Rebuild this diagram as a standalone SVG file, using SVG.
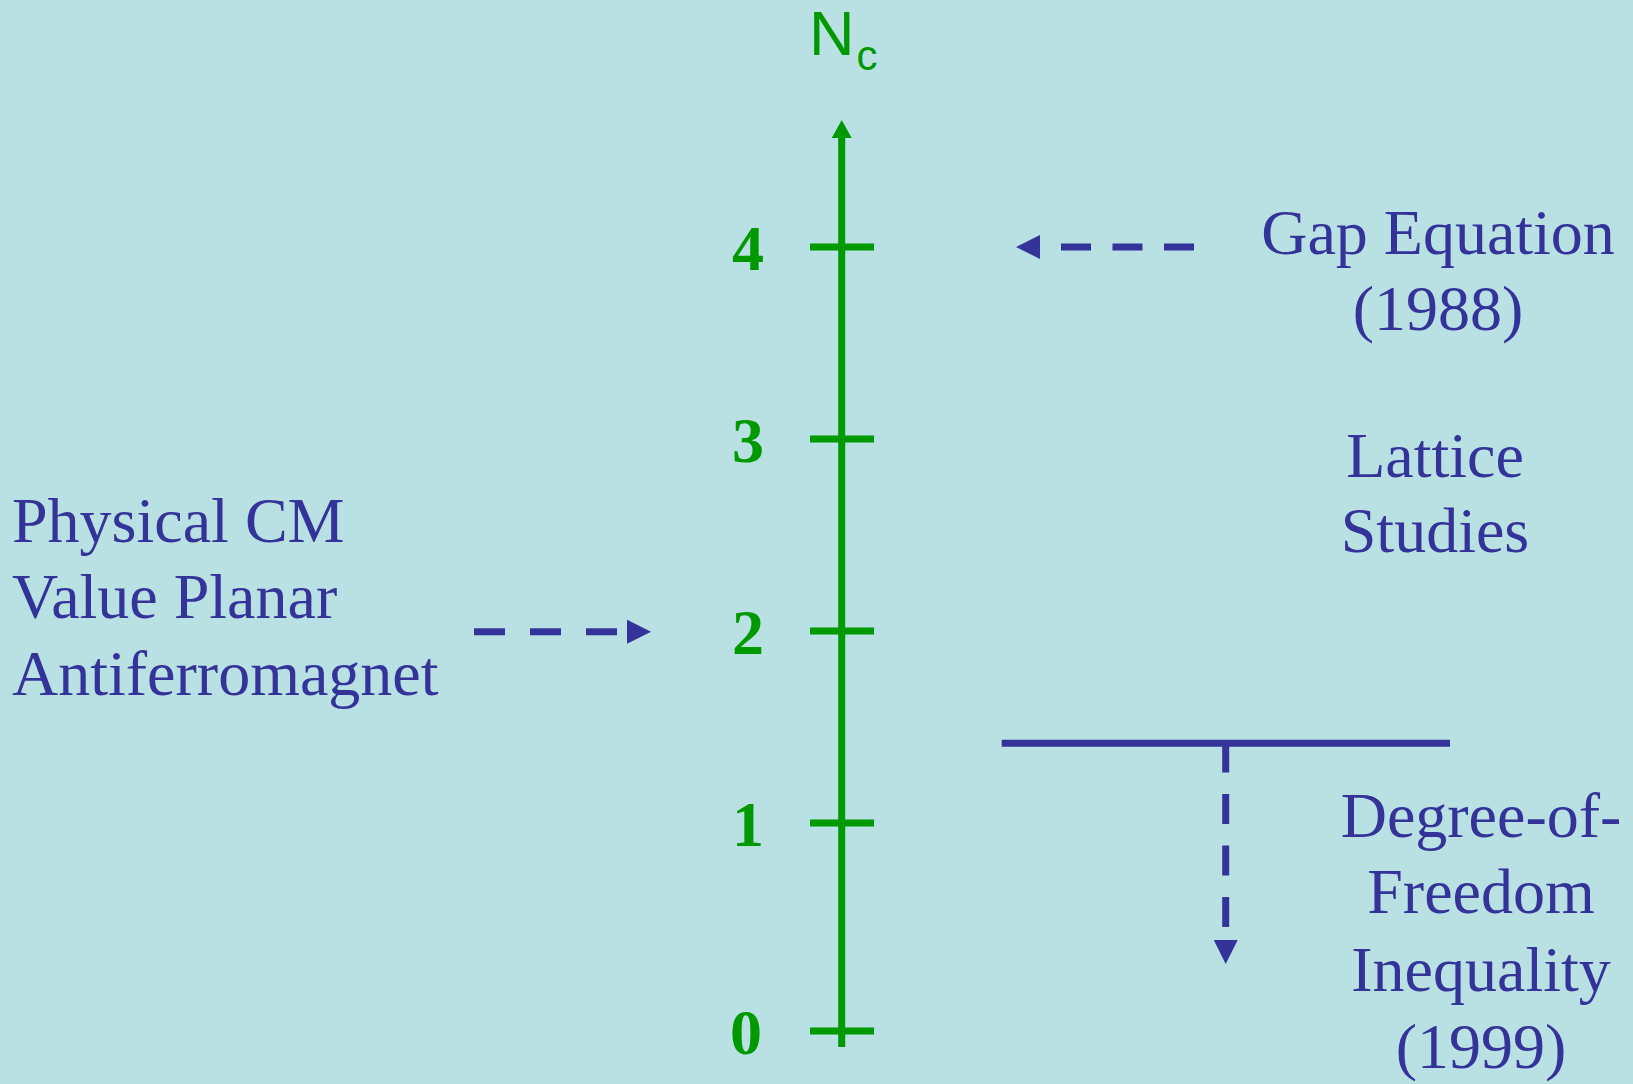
<svg xmlns="http://www.w3.org/2000/svg" width="1633" height="1084" viewBox="0 0 1633 1084">
<defs>
<style>
.lbl{font-family:"Liberation Serif","Times New Roman",serif;font-size:64px;fill:#333399}
.num{font-family:"Liberation Serif","Times New Roman",serif;font-size:64px;font-weight:bold;fill:#009900;text-anchor:middle}
.mid{text-anchor:middle}
.axis{stroke:#009900;stroke-width:7;fill:none}
.conn{stroke:#333399;stroke-width:7;fill:none}
.dash{stroke-dasharray:30 21.5}
</style>
<marker id="ah" markerUnits="userSpaceOnUse" markerWidth="24" markerHeight="24" viewBox="0 -11 22 22" refX="0" refY="0" orient="auto">
<path d="M0,-11 L22,0 L0,11 Z" fill="#333399"/>
</marker>
</defs>
<rect width="1633" height="1084" fill="#B9E0E3"/>
<g id="axis">
<line class="axis" x1="841.7" y1="136" x2="841.7" y2="1047"/>
<polygon points="831.7,138 841.7,120 851.7,138" fill="#009900"/>
<text x="809" y="55" font-family="'Liberation Sans',Arial,sans-serif" font-size="63" fill="#009900">N<tspan font-size="42" dx="2" dy="15">c</tspan></text>
</g>
<g id="ticks">
<line class="axis" x1="810" y1="247" x2="874" y2="247"/>
<line class="axis" x1="810" y1="439" x2="874" y2="439"/>
<line class="axis" x1="810" y1="631" x2="874" y2="631"/>
<line class="axis" x1="810" y1="823" x2="874" y2="823"/>
<line class="axis" x1="810" y1="1031" x2="874" y2="1031"/>
<text class="num" x="748" y="270">4</text>
<text class="num" x="748" y="462">3</text>
<text class="num" x="748" y="654">2</text>
<text class="num" x="748" y="846">1</text>
<text class="num" x="746" y="1054">0</text>
</g>
<g id="gap-equation">
<text class="lbl mid" x="1438" y="254">Gap Equation</text>
<text class="lbl mid" x="1438" y="330">(1988)</text>
</g>
<g id="lattice-studies">
<text class="lbl mid" x="1435" y="477">Lattice</text>
<text class="lbl mid" x="1435" y="552">Studies</text>
</g>
<g id="physical-cm">
<text class="lbl" x="12" y="542">Physical CM</text>
<text class="lbl" x="12" y="618">Value Planar</text>
<text class="lbl" x="12" y="695">Antiferromagnet</text>
</g>
<g id="dof-inequality">
<text class="lbl mid" x="1481" y="837">Degree-of-</text>
<text class="lbl mid" x="1481" y="913">Freedom</text>
<text class="lbl mid" x="1481" y="991">Inequality</text>
<text class="lbl mid" x="1481" y="1068">(1999)</text>
</g>
<g id="connectors">
<line class="conn dash" x1="1194" y1="247" x2="1040" y2="247" marker-end="url(#ah)"/>
<line class="conn" style="stroke-dasharray:31 25" x1="474" y1="631.7" x2="627" y2="631.7" marker-end="url(#ah)"/>
<line class="conn" x1="1001.7" y1="743.3" x2="1450" y2="743.3"/>
<line class="conn dash" x1="1225.7" y1="742.5" x2="1225.7" y2="940" marker-end="url(#ah)"/>
</g>
</svg>
